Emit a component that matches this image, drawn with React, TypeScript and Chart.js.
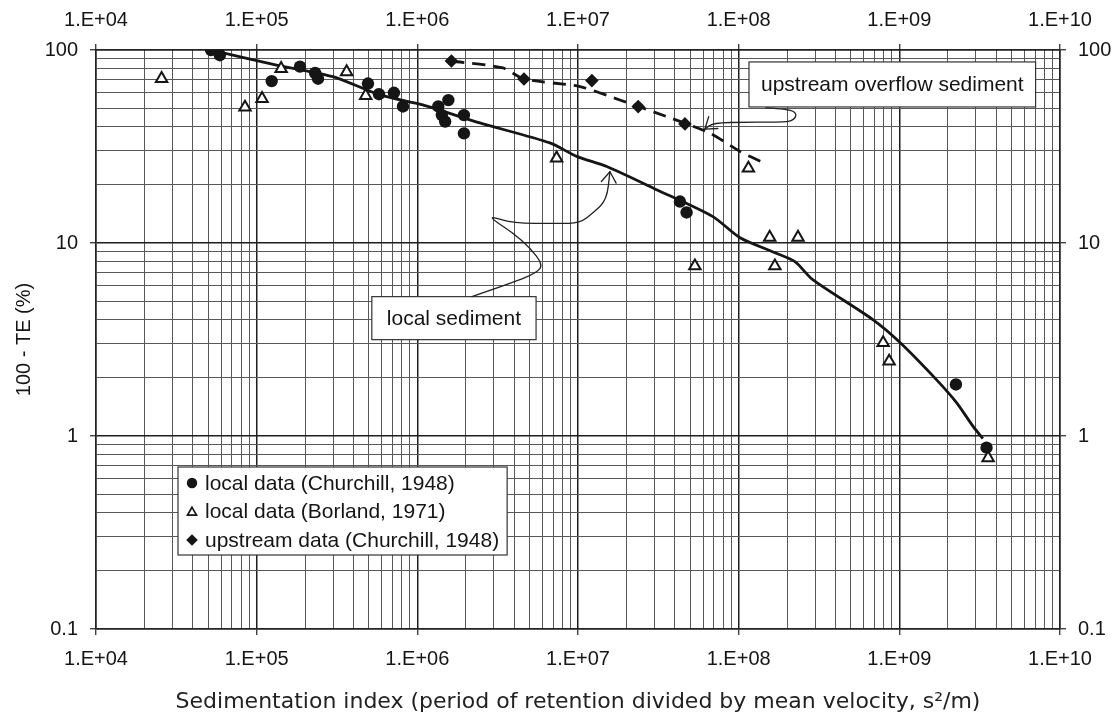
import React, { useEffect, useRef } from 'react';
import { Chart, registerables } from 'chart.js';

Chart.register(...registerables);

// ---------- axes ----------
const X_EXPONENTS = [4, 5, 6, 7, 8, 9, 10];
const X_TICK_LABELS = ['1.E+04', '1.E+05', '1.E+06', '1.E+07', '1.E+08', '1.E+09', '1.E+10'];
const Y_EXPONENTS = [-1, 0, 1, 2];
const Y_TICK_LABELS = ['0.1', '1', '10', '100'];
const MINOR_MULTIPLIERS = [1, 2, 3, 4, 5, 6, 7, 8, 9];
const X_TITLE = 'Sedimentation index (period of retention divided by mean velocity, s\u00B2/m)';
const Y_TITLE = '100 - TE (%)';

// ---------- data ----------
const CHURCHILL_LOCAL_LABEL = 'local data (Churchill, 1948)';
const CHURCHILL_LOCAL_X = [5.2e4, 5.9e4, 1.24e5, 1.86e5, 2.31e5, 2.41e5, 4.93e5, 5.77e5, 7.15e5, 8.14e5, 1.35e6, 1.56e6, 1.42e6, 1.49e6, 1.95e6, 1.95e6, 4.31e7, 4.74e7, 2.25e9, 3.49e9];
const CHURCHILL_LOCAL_Y = [100, 94, 69, 82, 76, 71, 67, 59, 60, 51, 51, 55, 46, 42.6, 46, 37, 16.4, 14.4, 1.85, 0.87];

const BORLAND_LABEL = 'local data (Borland, 1971)';
const BORLAND_X = [2.56e4, 8.46e4, 1.08e5, 1.42e5, 3.63e5, 4.77e5, 7.36e6, 5.34e7, 1.15e8, 1.56e8, 1.68e8, 2.34e8, 7.93e8, 8.64e8, 3.57e9];
const BORLAND_Y = [71, 50.5, 56, 80, 77, 58, 27.5, 7.6, 24.4, 10.7, 7.6, 10.7, 3.04, 2.44, 0.77];

const UPSTREAM_LABEL = 'upstream data (Churchill, 1948)';
const UPSTREAM_X = [1.63e6, 4.61e6, 1.22e7, 2.37e7, 4.63e7];
const UPSTREAM_Y = [87.7, 70.8, 69.4, 50.9, 41.4];

const LOCAL_CURVE_X = [5.17e4, 1.33e5, 2.98e5, 5.85e5, 1.08e6, 2.45e6, 6.69e6, 9.8e6, 1.51e7, 3.08e7, 6.91e7, 1.02e8, 1.68e8, 2.24e8, 2.89e8, 6.84e8, 1.01e9, 1.7e9, 2.27e9, 2.87e9, 3.31e9];
const LOCAL_CURVE_Y = [100, 83.6, 72.8, 58.5, 51.9, 41.9, 33.0, 28.1, 24.9, 18.9, 13.7, 10.65, 8.91, 8.0, 6.46, 4.01, 3.05, 1.96, 1.49, 1.125, 0.97];

const UPSTREAM_CURVE_X = [1.63e6, 3.41e6, 4.61e6, 1.03e7, 1.82e7, 3.56e7, 6.62e7, 1.02e8, 1.39e8];
const UPSTREAM_CURVE_Y = [87.7, 80.7, 70.8, 64.6, 55.1, 45.2, 37.1, 29.8, 26.3];

// ---------- annotations (data coordinates) ----------
const LOCAL_NOTE_TEXT = 'local sediment';
const LOCAL_NOTE_AT = [1.69e6, 4.08];
const UPSTREAM_NOTE_TEXT = 'upstream overflow sediment';
const UPSTREAM_NOTE_AT = [9.04e8, 66.3];
const LOCAL_ARROW_X = [2.19e6, 3.93e6, 5.55e6, 6.05e6, 5.02e6, 3.93e6, 2.95e6, 2.91e6, 3.93e6, 7.39e6, 1.03e7, 1.24e7, 1.51e7, 1.58e7];
const LOCAL_ARROW_Y = [5.28, 6.23, 7.02, 7.72, 9.46, 11.3, 13.2, 13.7, 12.7, 12.6, 12.7, 14.3, 16.7, 23.4];
const UPSTREAM_ARROW_X = [1.48e8, 2.08e8, 2.3e8, 2.21e8, 1.94e8, 1.12e8, 6.91e7, 6.16e7];
const UPSTREAM_ARROW_Y = [50.1, 49.3, 46.7, 43.4, 42.2, 42.3, 41.9, 38.9];

const FONT = "'Liberation Sans', Arial, sans-serif";
const INK = '#151515';

function zip(xs: number[], ys: number[]) {
  return xs.map((x, i) => ({ x, y: ys[i] }));
}

function decadeTicks(exps: number[]) {
  const out: { value: number; major: boolean }[] = [];
  exps.forEach((e, i) => {
    const mults = i === exps.length - 1 ? [1] : MINOR_MULTIPLIERS;
    mults.forEach((m) => {
      out.push({ value: parseFloat((m * Math.pow(10, e)).toPrecision(10)), major: m === 1 });
    });
  });
  return out;
}

function isPow10(v: number) {
  const l = Math.log10(v);
  return Math.abs(l - Math.round(l)) < 1e-6;
}

function labelFor(v: number, exps: number[], labels: string[]) {
  if (!isPow10(v)) return '';
  const idx = exps.indexOf(Math.round(Math.log10(v)));
  return idx >= 0 ? labels[idx] : '';
}

function gridCfg(onArea: boolean) {
  return {
    display: true,
    drawOnChartArea: onArea,
    drawTicks: true,
    tickLength: 6,
    color: (c: any) => (c.tick && c.tick.major ? '#1e1e1e' : '#585858'),
    lineWidth: (c: any) => (c.tick && c.tick.major ? 1.5 : 1),
    tickColor: (c: any) => (c.tick && c.tick.major ? '#222' : 'rgba(0,0,0,0)'),
    tickWidth: 1.2,
  };
}

function tickCfg(exps: number[], labels: string[]) {
  return {
    autoSkip: false,
    maxRotation: 0,
    minRotation: 0,
    padding: 12,
    color: INK,
    font: { family: FONT, size: 20 },
    callback: (v: any) => labelFor(Number(v), exps, labels),
  };
}

function xScale(position: string, size: number, onArea: boolean, title?: any) {
  return {
    type: 'logarithmic',
    position,
    display: true,
    min: 1e4,
    max: 1e10,
    afterBuildTicks: (s: any) => {
      s.ticks = decadeTicks(X_EXPONENTS);
    },
    afterFit: (s: any) => {
      s.height = size;
    },
    grid: gridCfg(onArea),
    border: { display: true, color: '#222', width: 1.5 },
    ticks: tickCfg(X_EXPONENTS, X_TICK_LABELS),
    title: title || { display: false },
  };
}

function yScale(position: string, size: number, onArea: boolean, title?: any) {
  return {
    type: 'logarithmic',
    position,
    display: true,
    min: 0.1,
    max: 100,
    afterBuildTicks: (s: any) => {
      s.ticks = decadeTicks(Y_EXPONENTS);
    },
    afterFit: (s: any) => {
      s.width = size;
    },
    grid: gridCfg(onArea),
    border: { display: true, color: '#222', width: 1.5 },
    ticks: tickCfg(Y_EXPONENTS, Y_TICK_LABELS),
    title: title || { display: false },
  };
}

function smoothPath(ctx: CanvasRenderingContext2D, pts: { x: number; y: number }[]) {
  ctx.beginPath();
  ctx.moveTo(pts[0].x, pts[0].y);
  for (let i = 1; i < pts.length - 1; i++) {
    const mx = (pts[i].x + pts[i + 1].x) / 2;
    const my = (pts[i].y + pts[i + 1].y) / 2;
    ctx.quadraticCurveTo(pts[i].x, pts[i].y, mx, my);
  }
  const last = pts[pts.length - 1];
  ctx.lineTo(last.x, last.y);
  ctx.stroke();
  // arrow head
  const prev = pts[pts.length - 2];
  const dx = prev.x - last.x;
  const dy = prev.y - last.y;
  const len = Math.hypot(dx, dy) || 1;
  const ux = dx / len;
  const uy = dy / len;
  const head = 13;
  const ang = (35 * Math.PI) / 180;
  [ang, -ang].forEach((a) => {
    const rx = ux * Math.cos(a) - uy * Math.sin(a);
    const ry = ux * Math.sin(a) + uy * Math.cos(a);
    ctx.beginPath();
    ctx.moveTo(last.x, last.y);
    ctx.lineTo(last.x + rx * head, last.y + ry * head);
    ctx.stroke();
  });
}

function noteBox(ctx: CanvasRenderingContext2D, text: string, cx: number, cy: number, padX: number, h: number) {
  ctx.font = `21px ${FONT}`;
  const w = ctx.measureText(text).width + padX * 2;
  ctx.fillStyle = '#ffffff';
  ctx.fillRect(cx - w / 2, cy - h / 2, w, h);
  ctx.strokeStyle = '#333';
  ctx.lineWidth = 1.2;
  ctx.strokeRect(cx - w / 2, cy - h / 2, w, h);
  ctx.fillStyle = INK;
  ctx.textAlign = 'center';
  ctx.textBaseline = 'middle';
  ctx.fillText(text, cx, cy + 1);
}

const annotationPlugin = {
  id: 'sedimentNotes',
  afterDatasetsDraw(chart: any) {
    const { ctx, scales } = chart;
    const px = (v: number) => scales.x.getPixelForValue(v);
    const py = (v: number) => scales.y.getPixelForValue(v);
    ctx.save();
    noteBox(ctx, LOCAL_NOTE_TEXT, px(LOCAL_NOTE_AT[0]), py(LOCAL_NOTE_AT[1]), 15, 43);
    noteBox(ctx, UPSTREAM_NOTE_TEXT, px(UPSTREAM_NOTE_AT[0]), py(UPSTREAM_NOTE_AT[1]), 12, 45);
    ctx.strokeStyle = '#222';
    ctx.lineWidth = 1.3;
    ctx.lineCap = 'round';
    ctx.lineJoin = 'round';
    smoothPath(ctx, LOCAL_ARROW_X.map((x, i) => ({ x: px(x), y: py(LOCAL_ARROW_Y[i]) })));
    smoothPath(ctx, UPSTREAM_ARROW_X.map((x, i) => ({ x: px(x), y: py(UPSTREAM_ARROW_Y[i]) })));
    ctx.restore();
  },
  afterDraw(chart: any) {
    const { ctx, chartArea } = chart;
    const items = [
      { label: CHURCHILL_LOCAL_LABEL, kind: 'circle' },
      { label: BORLAND_LABEL, kind: 'triangle' },
      { label: UPSTREAM_LABEL, kind: 'diamond' },
    ];
    ctx.save();
    ctx.font = `21px ${FONT}`;
    const left = chartArea.left + 82;
    const top = chartArea.top + 417;
    const textW = Math.max(...items.map((it) => ctx.measureText(it.label).width));
    const w = 27 + textW + 8;
    const h = 88;
    ctx.fillStyle = '#fff';
    ctx.fillRect(left, top, w, h);
    ctx.strokeStyle = '#333';
    ctx.lineWidth = 1.2;
    ctx.strokeRect(left, top, w, h);
    items.forEach((it, i) => {
      const cy = top + 16 + i * 28.5;
      const mx = left + 14;
      ctx.fillStyle = INK;
      ctx.strokeStyle = INK;
      if (it.kind === 'circle') {
        ctx.beginPath();
        ctx.arc(mx, cy, 5.2, 0, Math.PI * 2);
        ctx.fill();
      } else if (it.kind === 'triangle') {
        const r = 5.2;
        ctx.beginPath();
        for (let k = 0; k < 3; k++) {
          const a = (k * 2 * Math.PI) / 3;
          const x = mx + Math.sin(a) * r;
          const y = cy + 1 - Math.cos(a) * r;
          if (k === 0) ctx.moveTo(x, y);
          else ctx.lineTo(x, y);
        }
        ctx.closePath();
        ctx.lineWidth = 1.7;
        ctx.stroke();
      } else {
        const r = 5.8;
        ctx.beginPath();
        ctx.moveTo(mx, cy - r);
        ctx.lineTo(mx + r, cy);
        ctx.lineTo(mx, cy + r);
        ctx.lineTo(mx - r, cy);
        ctx.closePath();
        ctx.fill();
      }
      ctx.fillStyle = INK;
      ctx.textAlign = 'left';
      ctx.textBaseline = 'middle';
      ctx.fillText(it.label, left + 27, cy + 1);
    });
    ctx.restore();
  },
};

export default function App() {
  const ref = useRef<HTMLCanvasElement>(null);
  useEffect(() => {
    if (!ref.current) return;
    const chart = new Chart(ref.current, {
      type: 'scatter',
      data: {
        datasets: [
          {
            label: CHURCHILL_LOCAL_LABEL,
            data: zip(CHURCHILL_LOCAL_X, CHURCHILL_LOCAL_Y),
            pointStyle: 'circle',
            pointRadius: 6.2,
            backgroundColor: INK,
            borderColor: INK,
            borderWidth: 0,
            order: 1,
          },
          {
            label: BORLAND_LABEL,
            data: zip(BORLAND_X, BORLAND_Y),
            pointStyle: 'triangle',
            pointRadius: 6.6,
            backgroundColor: '#ffffff',
            borderColor: INK,
            borderWidth: 2,
            order: 2,
          },
          {
            label: UPSTREAM_LABEL,
            data: zip(UPSTREAM_X, UPSTREAM_Y),
            pointStyle: 'rectRot',
            pointRadius: 6.8,
            backgroundColor: INK,
            borderColor: INK,
            borderWidth: 0,
            order: 1,
          },
          {
            label: 'local sediment',
            data: zip(LOCAL_CURVE_X, LOCAL_CURVE_Y),
            showLine: true,
            pointRadius: 0,
            pointHoverRadius: 0,
            borderColor: INK,
            borderWidth: 2.8,
            tension: 0.25,
            order: 5,
          } as any,
          {
            label: 'upstream overflow sediment',
            data: zip(UPSTREAM_CURVE_X, UPSTREAM_CURVE_Y),
            showLine: true,
            pointRadius: 0,
            pointHoverRadius: 0,
            borderColor: INK,
            borderWidth: 2.8,
            borderDash: [13, 8],
            tension: 0.25,
            order: 5,
          } as any,
        ],
      },
      options: {
        responsive: false,
        animation: false,
        devicePixelRatio: 1,
        layout: { padding: 0 },
        plugins: { legend: { display: false }, tooltip: { enabled: false } },
        scales: {
          x: xScale('bottom', 87, true, {
            display: true,
            text: X_TITLE,
            color: '#222',
            font: { family: "'DejaVu Sans', sans-serif", size: 22 },
            padding: { top: 0, bottom: 1 },
          }),
          x2: xScale('top', 50, false),
          y: yScale('left', 96, true, {
            display: true,
            text: Y_TITLE,
            color: INK,
            font: { family: FONT, size: 20 },
            padding: { top: 12, bottom: 0 },
          }),
          y2: yScale('right', 60, false),
        } as any,
      },
      plugins: [annotationPlugin],
    } as any);
    return () => chart.destroy();
  }, []);
  return (
    <div style={{ position: 'absolute', left: 0, top: 0, width: 1120, height: 716, background: '#fff' }}>
      <canvas ref={ref} width={1120} height={716} style={{ display: 'block' }} />
    </div>
  );
}
